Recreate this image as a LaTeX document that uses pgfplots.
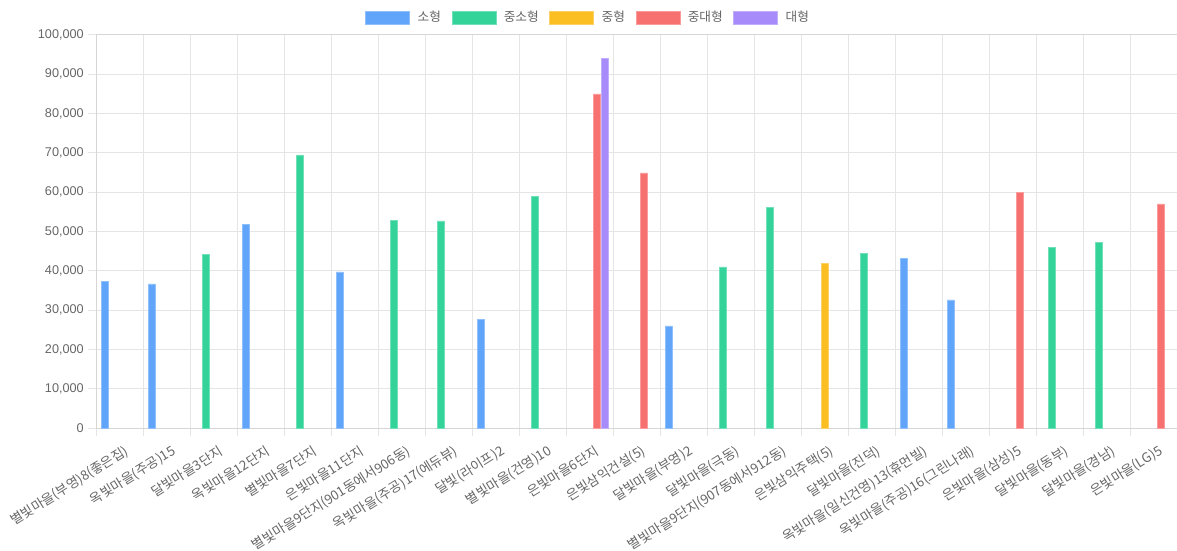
\documentclass[border=0pt]{standalone}
\usepackage{pgfplots}
\pgfplotsset{compat=1.18}
\usepackage{fontspec}
\setmainfont{Liberation Sans}
\newfontfamily\cjk{Noto Sans CJK KR}
\definecolor{c1}{HTML}{60A5FA}
\definecolor{c2}{HTML}{34D399}
\definecolor{c3}{HTML}{FBBF24}
\definecolor{c4}{HTML}{F87171}
\definecolor{c5}{HTML}{A78BFA}
\definecolor{gridc}{HTML}{E5E5E5}
\definecolor{axc}{HTML}{D6D6D6}
\definecolor{txt}{HTML}{666666}
\begin{document}
\begin{tikzpicture}
\useasboundingbox (0,0) rectangle (882.75pt,412.5pt);
\begin{axis}[
  at={(72pt,91.5pt)}, anchor=south west,
  scale only axis, width=810.75pt, height=294.75pt,
  xmin=-0.5, xmax=22.5, ymin=0, ymax=100000,
  ybar=0.57pt, bar width=5.08pt,
  xtick={0,...,22},
  xticklabels={별빛마을(부영)8(좋은집),옥빛마을(주공)15,달빛마을3단지,옥빛마을12단지,별빛마을7단지,은빛마을11단지,별빛마을9단지(901동에서906동),옥빛마을(주공)17(에듀뷰),달빛(라이프)2,별빛마을(건영)10,은빛마을6단지,은빛삼익건설(5),달빛마을(부영)2,달빛마을(극동),별빛마을9단지(907동에서912동),은빛삼익주택(5),달빛마을(진덕),옥빛마을(일신건영)13(휴먼빌),옥빛마을(주공)16(그린나래),은빛마을(삼성)5,달빛마을(동부),달빛마을(경남),은빛마을(LG)5},
  minor xtick={-0.5,0.5,...,22.5},
  ytick={0,10000,...,100000},
  xminorgrids, ymajorgrids,
  minor grid style={gridc, line width=0.75pt},
  major grid style={gridc, line width=0.75pt},
  axis line style={axc, line width=0.75pt},
  tick align=outside, xtick pos=bottom, ytick pos=left,
  major tick length=6pt, minor tick length=6pt,
  major x tick style={draw=none},
  minor x tick style={draw=gridc, line width=0.75pt},
  major y tick style={draw=gridc, line width=0.75pt},
  scaled y ticks=false,
  /pgf/number format/fixed,
  /pgf/number format/1000 sep={,},
  /pgf/number format/assume math mode=true,
  tick label style={text=txt, font=\fontsize{9.5}{11}\selectfont},
  yticklabel style={anchor=east, inner sep=0pt, xshift=-3pt},
  xticklabel style={font=\cjk\fontsize{10}{12}\selectfont, rotate=32, anchor=east, inner sep=0pt, yshift=-12pt, xshift=-0.5pt},
  legend columns=5,
  legend style={at={(0.4556,1.0445)}, anchor=center, draw=none, fill=none,
    font=\cjk\fontsize{9.5}{11}\selectfont, text=txt,
    /tikz/every odd column/.append style={column sep=3.75pt},
    /tikz/every even column/.append style={column sep=6pt}},
  legend image code/.code={\fill[#1] (0pt,-4.875pt) rectangle (33pt,4.875pt);},
]
\addplot[fill=c1, draw=c1!70!white, line width=0.4pt] coordinates {(0,37400) (1,36700) (3,51900) (5,39700) (8,27700) (12,26000) (17,43200) (18,32600)};
\addplot[fill=c2, draw=c2!70!white, line width=0.4pt] coordinates {(2,44100) (4,69500) (6,52900) (7,52700) (9,58900) (13,41000) (14,56200) (16,44500) (20,46000) (21,47200)};
\addplot[fill=c3, draw=c3!70!white, line width=0.4pt] coordinates {(15,42000)};
\addplot[fill=c4, draw=c4!70!white, line width=0.4pt] coordinates {(10,85000) (11,64900) (19,60000) (22,57000)};
\addplot[fill=c5, draw=c5!70!white, line width=0.4pt] coordinates {(10,94000)};
\legend{소형,중소형,중형,중대형,대형}
\end{axis}
\end{tikzpicture}
\end{document}
